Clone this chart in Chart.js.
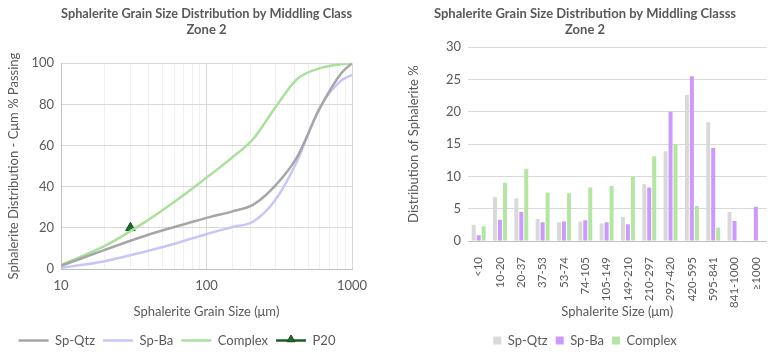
<!DOCTYPE html>
<html>
<head>
<meta charset="utf-8">
<script src="https://cdn.jsdelivr.net/npm/chart.js@4.4.1/dist/chart.umd.min.js"></script>
<style>
  body { margin: 0; background: #fff; }
  #wrap { position: relative; width: 778px; height: 357px; }
  #cumChart { position: absolute; left: 0; top: 0; }
  #barChart { position: absolute; left: 390px; top: 0; }
</style>
</head>
<body>
<div id="wrap">
  <canvas id="cumChart" width="390" height="357"></canvas>
  <canvas id="barChart" width="388" height="357"></canvas>
</div>
<script>
// cumulative curves (left)
var sizes = [10, 20, 37, 53, 74, 105, 149, 210, 297, 420, 595, 841, 1000];
var qtzCum = [1.5, 9.3, 15.9, 19.3, 22.2, 25.2, 27.9, 31.3, 40.5, 54.5, 77.5, 95, 100];
var baCum = [0.5, 3.8, 8.3, 11.2, 14.2, 17.4, 20.3, 23.1, 33.5, 52.5, 78, 91.5, 94.3];
var cxCum = [2, 11.2, 22.4, 29.9, 37.3, 45.5, 54, 63.3, 78.5, 92.3, 97.5, 99.5, 100];
var p20 = [{ x: 30, y: 20 }];

// distribution bars (right)
var sizeClasses = ['<10', '10-20', '20-37', '37-53', '53-74', '74-105', '105-149', '149-210',
    '210-297', '297-420', '420-595', '595-841', '841-1000', '≥1000'];
var qtzDist = [2.5, 6.8, 6.6, 3.4, 2.9, 3.0, 2.7, 3.7, 8.8, 13.9, 22.6, 18.4, 4.5, 0];
var baDist = [0.9, 3.3, 4.5, 2.9, 3.0, 3.2, 2.9, 2.6, 8.3, 20.0, 25.5, 14.4, 3.1, 5.3];
var cxDist = [2.3, 9.0, 11.2, 7.5, 7.4, 8.3, 8.5, 10.0, 13.1, 15.0, 5.4, 2.1, 0, 0];

var txt = '#595959';
Chart.defaults.font.family = 'Lato, "Open Sans", sans-serif';
Chart.defaults.font.size = 13;
Chart.defaults.color = txt;
Chart.defaults.animation = false;

toXY = (xs, ys) => xs.map((x, i) => ({ x: x, y: ys[i] }));

var majors = [10, 100, 1000];

// legend entry for P20 is a line with the marker on it
var p20Legend = {
    id: 'p20Legend',
    afterDraw: (chart) => {
        var lg = chart.legend;
        if (!lg || !lg.legendHitBoxes[3]) return;
        var hb = lg.legendHitBoxes[3];
        var ctx = chart.ctx;
        var cy = hb.top + hb.height / 2;
        ctx.save();
        ctx.fillStyle = '#fff';
        ctx.fillRect(hb.left - 1, hb.top, 32, hb.height);
        ctx.strokeStyle = '#1a5c22';
        ctx.lineWidth = 2.5;
        ctx.beginPath();
        ctx.moveTo(hb.left, cy);
        ctx.lineTo(hb.left + 30, cy);
        ctx.stroke();
        ctx.fillStyle = '#1f6b28';
        ctx.strokeStyle = '#134d1c';
        ctx.lineWidth = 1;
        Chart.helpers.drawPoint(ctx, { pointStyle: 'triangle', radius: 4.5, rotation: 0, borderWidth: 1 },
            hb.left + 15, cy - 1);
        ctx.restore();
    }
};

new Chart(document.getElementById('cumChart').getContext('2d'), {
    type: 'line',
    data: {
        datasets: [
            { label: 'Sp-Qtz', data: toXY(sizes, qtzCum), borderColor: '#a6a6a6', borderWidth: 2.5,
              pointRadius: 0, pointStyle: 'line', cubicInterpolationMode: 'monotone' },
            { label: 'Sp-Ba', data: toXY(sizes, baCum), borderColor: '#c6c6fb', borderWidth: 2.5,
              pointRadius: 0, pointStyle: 'line', cubicInterpolationMode: 'monotone' },
            { label: 'Complex', data: toXY(sizes, cxCum), borderColor: '#a9e09b', borderWidth: 2.5,
              pointRadius: 0, pointStyle: 'line', cubicInterpolationMode: 'monotone' },
            { label: 'P20', data: p20, borderColor: '#134d1c', backgroundColor: '#1f6b28', borderWidth: 1,
              pointRadius: 5.5, pointStyle: 'triangle', showLine: false }
        ]
    },
    options: {
        responsive: false,
        layout: { padding: { left: 2, right: 38, top: 4, bottom: 0 } },
        plugins: {
            title: {
                display: true,
                text: ['Sphalerite Grain Size Distribution by Middling Class', 'Zone 2'],
                font: { size: 13, weight: 'bold' },
                color: txt,
                fullSize: false,
                padding: { top: 2, bottom: 26 }
            },
            legend: {
                position: 'bottom',
                labels: { usePointStyle: true, pointStyleWidth: 30, boxHeight: 8, padding: 8, color: txt }
            },
            tooltip: { enabled: false }
        },
        scales: {
            x: {
                type: 'logarithmic', min: 10, max: 1000,
                afterFit: (s) => { s.height = 57; },
                title: { display: true, text: 'Sphalerite Grain Size (μm)', color: txt, padding: { top: 4, bottom: 6 } },
                ticks: {
                    autoSkip: false, maxRotation: 0, color: txt, padding: 9,
                    callback: (v) => majors.includes(v) ? String(v) : ''
                },
                grid: {
                    color: (c) => majors.includes(c.tick && c.tick.value) ? '#d9d9d9' : '#efefef',
                    drawTicks: false
                },
                border: { color: '#bfbfbf' }
            },
            y: {
                min: 0, max: 100,
                afterFit: (s) => { s.width = 59; },
                title: { display: true, text: 'Sphalerite Distribution - Cμm % Passing', color: txt },
                ticks: { stepSize: 20, color: txt, padding: 7 },
                grid: { color: '#d9d9d9', drawTicks: false },
                border: { color: '#bfbfbf' }
            }
        }
    },
    plugins: [p20Legend]
});

new Chart(document.getElementById('barChart').getContext('2d'), {
    type: 'bar',
    data: {
        labels: sizeClasses,
        datasets: [
            { label: 'Sp-Qtz', data: qtzDist, backgroundColor: '#d9d9d9' },
            { label: 'Sp-Ba', data: baDist, backgroundColor: '#cc99ff' },
            { label: 'Complex', data: cxDist, backgroundColor: '#b4e5a2' }
        ]
    },
    options: {
        responsive: false,
        layout: { padding: { left: 12, right: 10, top: 4, bottom: 0 } },
        datasets: { bar: { categoryPercentage: 0.7, barPercentage: 0.8 } },
        plugins: {
            title: {
                display: true,
                text: ['Sphalerite Grain Size Distribution by Middling Classs', 'Zone 2'],
                font: { size: 13, weight: 'bold' },
                color: txt,
                padding: { top: 2, bottom: 10 }
            },
            legend: {
                position: 'bottom',
                labels: { boxWidth: 8, boxHeight: 8, padding: 8, color: txt }
            },
            tooltip: { enabled: false }
        },
        scales: {
            x: {
                afterFit: (s) => { s.height = 85; },
                title: { display: true, text: 'Sphalerite Size (μm)', color: txt, padding: { top: 2, bottom: 6 } },
                ticks: { minRotation: 90, maxRotation: 90, autoSkip: false, color: txt, padding: 8,
                    font: { size: 11.5 } },
                grid: { display: false },
                border: { color: '#bfbfbf' }
            },
            y: {
                min: 0, max: 30,
                afterFit: (s) => { s.width = 66; },
                title: { display: true, text: 'Distribution of Sphalerite %', color: txt },
                ticks: { stepSize: 5, color: txt, padding: 7 },
                grid: { color: '#d9d9d9', drawTicks: false },
                border: { display: false }
            }
        }
    }
});
</script>
</body>
</html>
